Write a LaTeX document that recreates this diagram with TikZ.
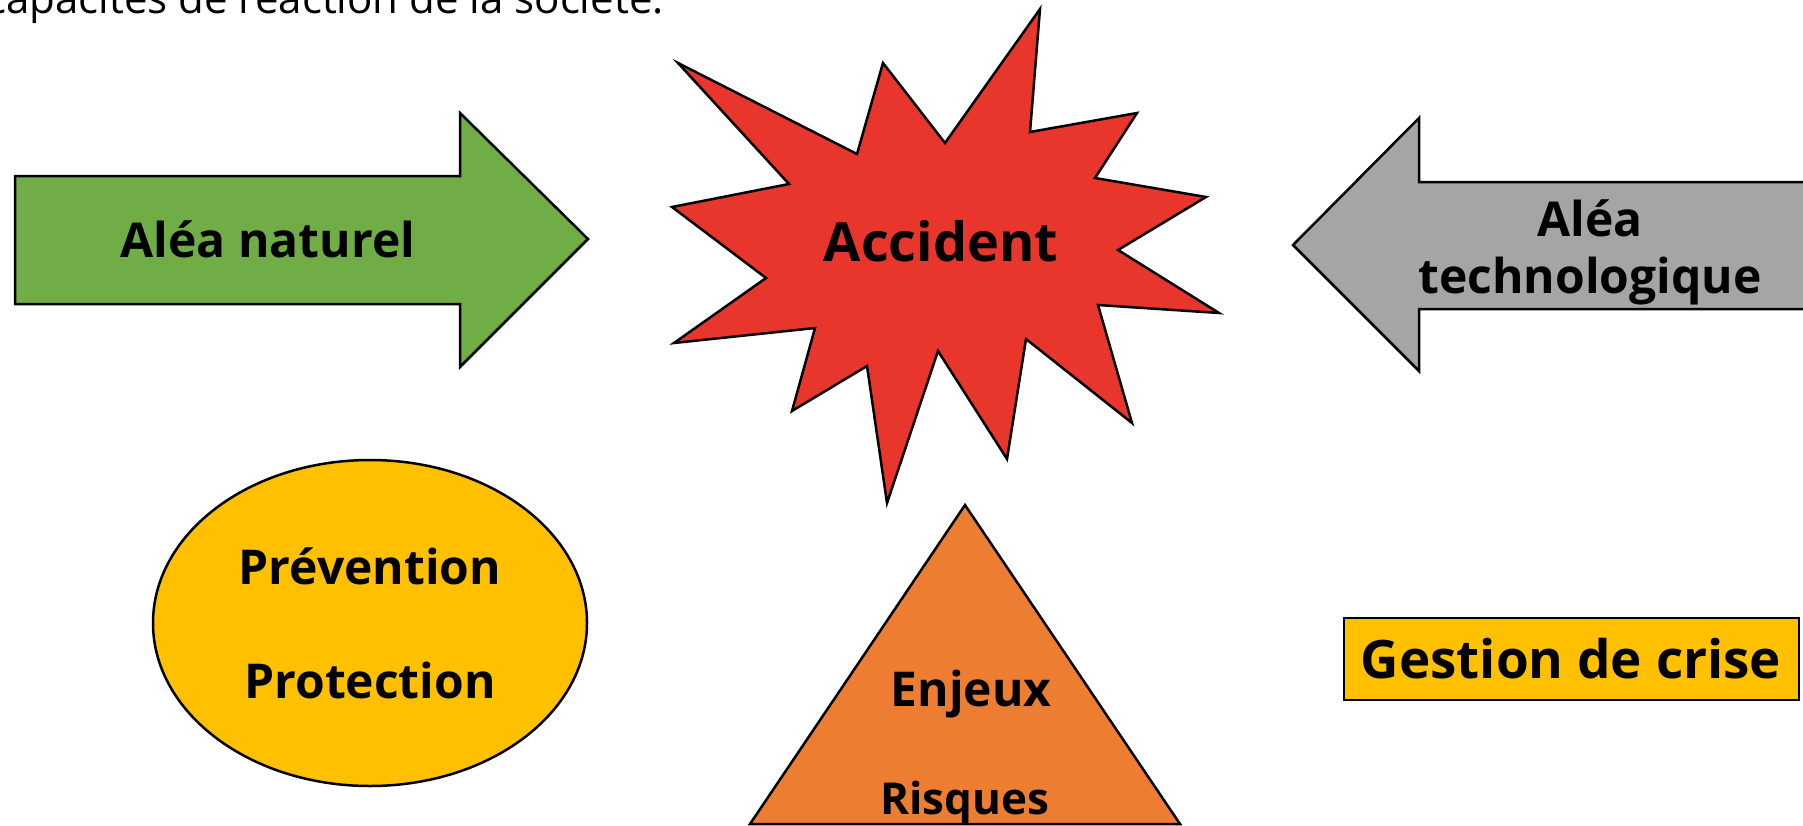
\documentclass[tikz,border=0pt]{standalone}
\usepackage{fontspec}
\setmainfont{Open Sans}
\definecolor{aleagreen}{HTML}{70AD47}
\definecolor{accidentred}{HTML}{E9362D}
\definecolor{aleagray}{HTML}{A5A5A5}
\definecolor{enjeuxorange}{HTML}{ED7D31}
\definecolor{protectgold}{HTML}{FFC000}

\begin{document}
\begin{tikzpicture}[
    x=1pt, y=-1pt,
    outline/.style={draw=black, line width=2.5pt, line join=miter},
    label text/.style={font=\bfseries\fontsize{48}{57}\selectfont, align=center, inner sep=0pt},
    big text/.style={font=\bfseries\fontsize{54}{60}\selectfont, inner sep=0pt}
]
    \useasboundingbox (0,0) rectangle (1803,825);
    % Line of text cut by the top edge
    \node[anchor=base west, inner sep=0pt, font=\fontsize{42}{50}\selectfont] (caption) at (-14,13) {capacités de réaction de la société.};
    % Natural hazard arrow, pointing right
    \draw[outline, fill=aleagreen] (15,176) -- (460,176) -- (460,113) -- (588,239)
        -- (460,367) -- (460,304) -- (15,304) -- cycle;
    \node[label text] (naturel) at (268,239) {Aléa naturel};
    % Technological hazard arrow, pointing left
    \draw[outline, fill=aleagray] (1815,182) -- (1419,182) -- (1419,118) -- (1293,245)
        -- (1419,371) -- (1419,309) -- (1815,309) -- cycle;
    \node[label text] (techno) at (1590,252) {Aléa\\technologique};
    % Accident burst
    \draw[outline, fill=accidentred] (678,63) -- (857,154) -- (883,63) -- (945,143)
        -- (1040,9) -- (1030,132) -- (1137,113) -- (1095,178) -- (1206,197)
        -- (1118,250) -- (1219,313) -- (1098,305) -- (1132,423) -- (1026,339)
        -- (1007,459) -- (938,351) -- (887,503) -- (867,366) -- (792,411)
        -- (815,328) -- (674,343) -- (766,278) -- (672,207) -- (789,184) -- cycle;
    \node[big text] (accident) at (941,241) {Accident};
    % Prevention ellipse
    \draw[outline, fill=protectgold] (370,623) ellipse [x radius=217, y radius=163];
    \node[label text] (prevention) at (370,566) {Prévention};
    \node[label text] (protection) at (370,680) {Protection};
    % Stakes triangle
    \draw[outline, fill=enjeuxorange] (965,505) -- (1180,824) -- (750,824) -- cycle;
    \node[label text] (enjeux) at (971,694) {Enjeux};
    \node[label text, font=\bfseries\fontsize{44}{50}\selectfont] (risques) at (965,803) {Risques};
    % Crisis management box
    \node[draw=black, line width=2pt, fill=protectgold, inner sep=0pt, minimum width=455, minimum height=82,
        font=\bfseries\fontsize{53}{60}\selectfont] (crise) at (1571,659) {Gestion de crise};
\end{tikzpicture}
\end{document}
